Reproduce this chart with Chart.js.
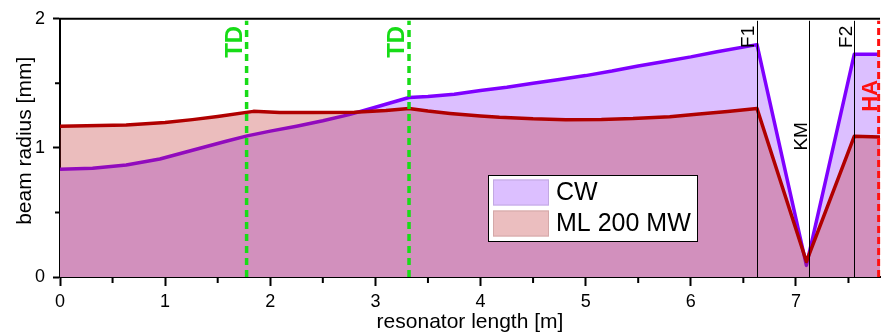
<!DOCTYPE html>
<html>
<head>
<meta charset="utf-8">
<script src="https://cdn.jsdelivr.net/npm/chart.js@4.4.0/dist/chart.umd.min.js"></script>
<style>
html, body { margin: 0; padding: 0; background: #fff; }
#wrap { width: 882px; height: 336px; }
</style>
</head>
<body>
<div id="wrap"><canvas id="chart" width="882" height="336"></canvas></div>
<script>
// beam radius along the resonator
var cwX = [0, 0.31, 0.63, 0.95, 1.26, 1.58, 1.78, 2.0, 2.25, 2.5, 2.75, 3.0, 3.32, 3.5, 3.75, 4.0, 4.25, 4.5, 4.75, 5.0, 5.25, 5.5, 5.75, 6.0, 6.25, 6.63, 7.10, 7.555, 7.8];
var cwY = [0.835, 0.842, 0.868, 0.914, 0.982, 1.051, 1.093, 1.13, 1.168, 1.21, 1.258, 1.315, 1.39, 1.398, 1.415, 1.445, 1.47, 1.5, 1.53, 1.56, 1.595, 1.635, 1.67, 1.705, 1.745, 1.80, 0.09, 1.725, 1.725];
var mlX = [0, 0.63, 1.0, 1.26, 1.5, 1.84, 2.09, 2.4, 2.8, 3.1, 3.32, 3.5, 3.71, 4.0, 4.18, 4.5, 4.81, 5.15, 5.45, 5.8, 6.08, 6.35, 6.63, 7.10, 7.555, 7.8];
var mlY = [1.168, 1.178, 1.196, 1.219, 1.243, 1.283, 1.274, 1.274, 1.277, 1.29, 1.305, 1.285, 1.267, 1.247, 1.237, 1.225, 1.219, 1.22, 1.227, 1.242, 1.262, 1.282, 1.305, 0.12, 1.09, 1.085];
var seriesNames = ["CW", "ML 200 MW"];

// optical elements along the beam
var markerX = [1.775, 3.32, 6.63, 7.12, 7.555, 7.787];
var markerNames = ["TD", "TD", "F1", "KM", "F2", "HA"];

var xMinorTicks = [0.5, 1.5, 2.5, 3.5, 4.5, 5.5, 6.5, 7.5];
var yMinorTicks = [0.5, 1.5];

var FONT = "'Liberation Sans', Arial, sans-serif";
Chart.defaults.font.family = FONT;
Chart.defaults.color = "#000";

function toPoints(xs, ys) {
    return xs.map(function (x, i) { return {x: x, y: ys[i]}; });
}

var markerStyle = {
    TD: {color: "#17dc17", width: 3.5, dash: [7, 5], font: "bold 24px " + FONT, align: "right", y: 7, off: -5},
    F1: {color: "#000", width: 1, dash: [], font: "19px " + FONT, align: "right", y: 7, off: -4},
    F2: {color: "#000", width: 1, dash: [], font: "19px " + FONT, align: "right", y: 7, off: -3},
    KM: {color: "#000", width: 1, dash: [], font: "19px " + FONT, align: "center", y: 117.5, off: -3},
    HA: {color: "#ff1010", width: 3, dash: [7, 4], font: "bold 22px " + FONT, align: "center", y: 77, off: -2}
};

var markersPlugin = {
    id: "markers",
    afterDatasetsDraw: function (chart) {
        var ctx = chart.ctx, area = chart.chartArea, xs = chart.scales.x;
        ctx.save();
        markerX.forEach(function (v, i) {
            var st = markerStyle[markerNames[i]];
            var px = xs.getPixelForValue(v);
            if (st.width === 1) px = Math.round(px) + 0.5;
            ctx.strokeStyle = st.color;
            ctx.lineWidth = st.width;
            ctx.setLineDash(st.dash);
            ctx.beginPath();
            ctx.moveTo(px, area.bottom);
            ctx.lineTo(px, area.top + 2);
            ctx.stroke();

            ctx.save();
            ctx.translate(px + st.off, area.top + st.y);
            ctx.rotate(-Math.PI / 2);
            ctx.fillStyle = st.color;
            ctx.font = st.font;
            ctx.textAlign = st.align;
            ctx.textBaseline = "alphabetic";
            ctx.fillText(markerNames[i], 0, 0);
            ctx.restore();
        });
        ctx.restore();
    },
    afterDraw: function (chart) {
        var ctx = chart.ctx, area = chart.chartArea;
        var xs = chart.scales.x, ys = chart.scales.y;
        ctx.save();
        ctx.strokeStyle = "#000";
        ctx.lineWidth = 2;
        ctx.setLineDash([]);
        // top frame
        ctx.beginPath();
        ctx.moveTo(area.left - 1, area.top);
        ctx.lineTo(area.right, area.top);
        ctx.stroke();
        // minor ticks
        ctx.beginPath();
        xMinorTicks.forEach(function (v) {
            var px = xs.getPixelForValue(v);
            ctx.moveTo(px, area.bottom);
            ctx.lineTo(px, area.bottom + 6);
        });
        yMinorTicks.forEach(function (v) {
            var py = ys.getPixelForValue(v);
            ctx.moveTo(area.left, py);
            ctx.lineTo(area.left - 5, py);
        });
        ctx.stroke();

        // y axis title, sits a bit above the middle of the axis
        ctx.save();
        ctx.translate(31, area.top + 122);
        ctx.rotate(-Math.PI / 2);
        ctx.fillStyle = "#000";
        ctx.font = "21px " + FONT;
        ctx.textAlign = "center";
        ctx.textBaseline = "alphabetic";
        ctx.fillText("beam radius [mm]", 0, 0);
        ctx.restore();

        // legend box
        var bx = 488, by = 175, bw = 209, bh = 66;
        ctx.fillStyle = "#fff";
        ctx.fillRect(bx, by, bw, bh);
        ctx.lineWidth = 1;
        ctx.strokeRect(bx + 0.5, by + 0.5, bw, bh);
        chart.data.datasets.forEach(function (ds, i) {
            var sy = by + 4.5 + i * 31;
            ctx.fillStyle = ds.legendFill;
            ctx.fillRect(bx + 5, sy, 56, 26);
            ctx.strokeStyle = ds.legendEdge;
            ctx.strokeRect(bx + 5.5, sy + 0.5, 55, 25);
            ctx.fillStyle = "#000";
            ctx.font = "25px " + FONT;
            ctx.textAlign = "left";
            ctx.textBaseline = "middle";
            ctx.fillText(ds.label, bx + 68, sy + 14);
        });
        ctx.restore();
    }
};

new Chart(document.getElementById("chart"), {
    type: "line",
    data: {
        datasets: [
            {
                label: seriesNames[0],
                data: toPoints(cwX, cwY),
                borderColor: "#7f00ff",
                backgroundColor: "#dcbfff",
                legendFill: "#dcbfff",
                legendEdge: "#c2a8e2",
                borderWidth: 3.5,
                borderJoinStyle: "round",
                pointRadius: 0,
                tension: 0,
                fill: "origin",
                order: 2
            },
            {
                label: seriesNames[1],
                data: toPoints(mlX, mlY),
                borderColor: "#b00000",
                backgroundColor: "rgba(188, 38, 38, 0.3)",
                legendFill: "#ebbebf",
                legendEdge: "#d4a8a8",
                borderWidth: 3.5,
                borderJoinStyle: "round",
                pointRadius: 0,
                tension: 0,
                fill: "origin",
                order: 1
            }
        ]
    },
    options: {
        responsive: false,
        devicePixelRatio: 1,
        animation: false,
        layout: {padding: {top: 15, right: 2, left: 0, bottom: 0}},
        plugins: {
            legend: {display: false},
            tooltip: {enabled: false}
        },
        scales: {
            x: {
                type: "linear",
                min: 0,
                max: 7.8,
                ticks: {stepSize: 1, includeBounds: false, font: {size: 18}, color: "#000", padding: 5, maxRotation: 0},
                grid: {drawOnChartArea: false, tickLength: 9, tickColor: "#000", tickWidth: 2},
                border: {color: "#000", width: 2},
                title: {display: true, text: "resonator length [m]", font: {size: 21}, color: "#000", padding: {top: 0, bottom: 1}},
                afterFit: function (scale) { scale.height = 59; }
            },
            y: {
                min: 0,
                max: 2,
                ticks: {stepSize: 1, includeBounds: false, font: {size: 18}, color: "#000", padding: 8},
                grid: {drawOnChartArea: false, tickLength: 7, tickColor: "#000", tickWidth: 2},
                border: {color: "#000", width: 2},
                afterFit: function (scale) { scale.width = 60; }
            }
        }
    },
    plugins: [markersPlugin]
});
</script>
</body>
</html>
